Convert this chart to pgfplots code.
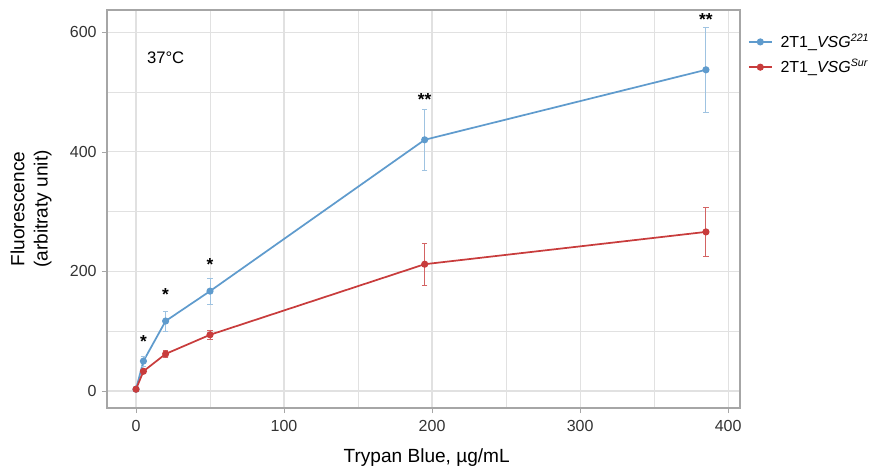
\documentclass[border=0pt]{standalone}
\usepackage{pgfplots}
\pgfplotsset{compat=1.18}
\usepackage{fontspec}
\setmainfont{Liberation Sans}
\definecolor{cblue}{RGB}{95,155,205}
\definecolor{cred}{RGB}{200,60,60}
\definecolor{gridc}{RGB}{225,225,225}
\begin{document}
\begin{tikzpicture}
\useasboundingbox (-80.25pt,-44.25pt) rectangle (577.5pt,306pt);
\begin{axis}[
  at={(0,0)}, anchor=south west,
  scale only axis,
  width=474.75pt, height=298.5pt,
  xmin=-19.6, xmax=408, ymin=-28.4, ymax=637,
  xtick={0,100,200,300,400},
  ytick={0,200,400,600},
  minor xtick={50,150,250,350},
  minor ytick={100,300,500},
  xtick pos=bottom, ytick pos=left,
  grid=both,
  major grid style={gridc, line width=0.9pt},
  minor grid style={gridc, line width=0.5pt},
  axis line style={gray!70, line width=0.8pt},
  tick style={gray!70},
  tick align=outside,
  major tick length=3.75pt,
  minor tick length=0pt,
  /pgf/number format/assume math mode=true,
  ticklabel style={font=\fontsize{12}{14}\selectfont, text=black!80},
  yticklabel style={xshift=-0.5pt},
  xticklabel style={yshift=-2pt},
  xlabel={Trypan Blue, µg/mL},
  ylabel={Fluorescence\\(arbitraty unit)},
  every axis y label/.style={at={(axis description cs:0,0.5)}, xshift=-57pt, rotate=90, anchor=center, align=center, font=\fontsize{14.3}{17.5}\selectfont},
  every axis x label/.style={at={(axis description cs:0.505,0)}, anchor=center, yshift=-37pt, font=\fontsize{14.3}{17}\selectfont},
  legend style={at={(1.006,0.953)}, anchor=north west, draw=none, fill=none, font=\fontsize{12}{14}\selectfont, row sep=3.5pt},
  legend cell align=left,
  clip=false,
]
\addplot+[cblue, line width=1.3pt, mark=*, mark size=2pt, mark options={fill=cblue, draw=cblue},
  error bars/.cd, y dir=both, y explicit, error bar style={cblue!60, line width=0.7pt}, error mark options={rotate=90, mark size=2pt, cblue!60}]
coordinates {
(0,3) +- (0,2)
(5,50) +- (0,8)
(20,117) +- (0,17)
(50,167) +- (0,22)
(195,420) +- (0,51)
(385,537) +- (0,71)
};
\addlegendentry{\hspace{4pt}2T1\_\textit{VSG}\textsuperscript{\textit{221}}}
\addplot+[cred, line width=1.3pt, mark=*, mark size=2pt, mark options={fill=cred, draw=cred},
  error bars/.cd, y dir=both, y explicit, error bar style={cred!80, line width=0.7pt}, error mark options={rotate=90, mark size=2pt, cred!80}]
coordinates {
(0,3) +- (0,2)
(5,33) +- (0,4)
(20,62) +- (0,6)
(50,94) +- (0,8)
(195,212) +- (0,35)
(385,266) +- (0,41)
};
\addlegendentry{\hspace{4pt}2T1\_\textit{VSG}\textsuperscript{\textit{Sur}}}
\node[font=\fontsize{12.5}{14}\selectfont] at (axis cs:20,557) {37°C};
\node[font=\bfseries\fontsize{13}{14}\selectfont] at (axis cs:5,83) {*};
\node[font=\bfseries\fontsize{13}{14}\selectfont] at (axis cs:20,161) {*};
\node[font=\bfseries\fontsize{13}{14}\selectfont] at (axis cs:50,211) {*};
\node[font=\bfseries\fontsize{13}{14}\selectfont] at (axis cs:195,487) {**};
\node[font=\bfseries\fontsize{13}{14}\selectfont] at (axis cs:385,621) {**};
\end{axis}
\end{tikzpicture}
\end{document}
